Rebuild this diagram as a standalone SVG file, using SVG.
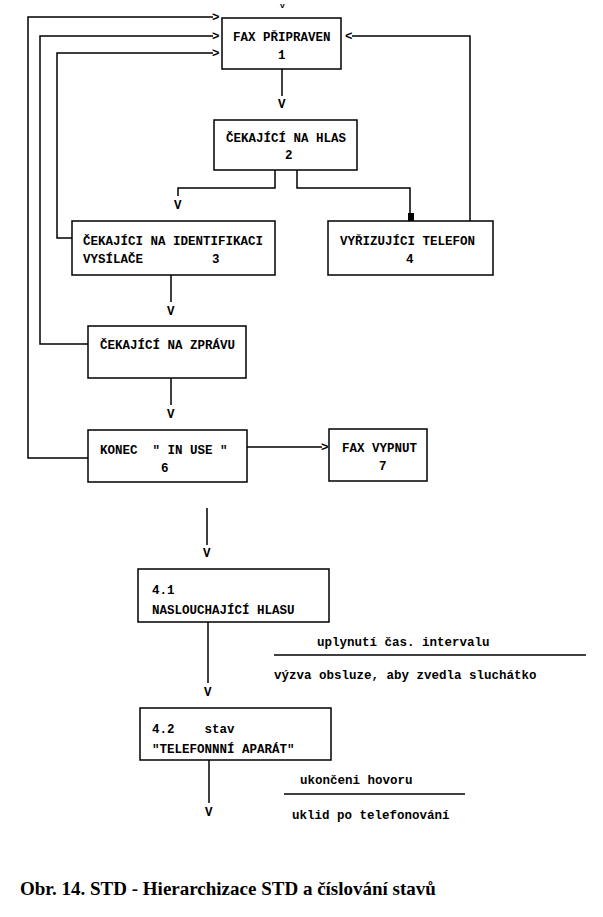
<svg xmlns="http://www.w3.org/2000/svg" width="603" height="917" viewBox="0 0 603 917">
<style>
.b{fill:#fff;stroke:#000;stroke-width:1.5}
.t{font-family:"Liberation Mono",monospace;font-size:12.5px;font-weight:bold;fill:#000;white-space:pre}
.c{fill:none;stroke:#000;stroke-width:1.5}
</style>
<rect width="603" height="917" fill="#fff"/>
<g id="connectors">
<text class="t" x="280" y="8" style="font-size:8px">v</text>
<polyline class="c" points="88,458 28,458 28,17 213,17"/>
<polyline class="c" points="88,344 40,344 40,36 213,36"/>
<polyline class="c" points="72,238 57,238 57,53 213,53"/>
<text class="t" x="212" y="21">&gt;</text><text class="t" x="212" y="40">&gt;</text><text class="t" x="212" y="57">&gt;</text>
<polyline class="c" points="470,221 470,36 352,36"/>
<text class="t" x="345" y="40">&lt;</text>
<line class="c" x1="282" y1="69" x2="282" y2="96"/><text class="t" x="278" y="108">V</text>
<polyline class="c" points="275,170 275,188 178,188 178,196"/><text class="t" x="174" y="209">V</text>
<polyline class="c" points="297,170 297,188 410,188 410,221"/>
<rect x="408" y="213" width="6" height="16" fill="#000"/>
<line class="c" x1="171" y1="275" x2="171" y2="302"/><text class="t" x="167" y="315">V</text>
<line class="c" x1="171" y1="378" x2="171" y2="405"/><text class="t" x="167" y="418">V</text>
<line class="c" x1="247" y1="447" x2="322" y2="447"/><text class="t" x="321" y="451">&gt;</text>
<line class="c" x1="207" y1="508" x2="207" y2="545"/><text class="t" x="203" y="557">V</text>
<line class="c" x1="208" y1="622" x2="208" y2="683"/><text class="t" x="204" y="696">V</text>
<line class="c" x1="209" y1="760" x2="209" y2="803"/><text class="t" x="205" y="816">V</text>
<line class="c" x1="274" y1="655" x2="586" y2="655"/>
<line class="c" x1="284" y1="794" x2="465" y2="794"/>
<text class="t" x="317" y="646">uplynutí čas. intervalu</text>
<text class="t" x="274" y="679">výzva obsluze, aby zvedla sluchátko</text>
<text class="t" x="300" y="784">ukončeni hovoru</text>
<text class="t" x="292" y="819">uklid po telefonování</text>
</g>
<g id="n1"><rect class="b" x="222" y="18" width="119" height="51"/><text class="t" x="233" y="41">FAX PŘIPRAVEN</text><text class="t" x="278" y="59">1</text></g>
<g id="n2"><rect class="b" x="214" y="120" width="143" height="50"/><text class="t" x="226" y="142">ČEKAJÍCÍ NA HLAS</text><text class="t" x="285" y="159">2</text></g>
<g id="n3"><rect class="b" x="72" y="221" width="203" height="54"/><text class="t" x="83" y="245">ČEKAJÍCI NA IDENTIFIKACI</text><text class="t" x="83" y="263">VYSÍLAČE</text><text class="t" x="212" y="263">3</text></g>
<g id="n4"><rect class="b" x="328" y="221" width="165" height="54"/><text class="t" x="340" y="245">VYŘIZUJÍCI TELEFON</text><text class="t" x="406" y="263">4</text></g>
<g id="n5"><rect class="b" x="88" y="326" width="158" height="52"/><text class="t" x="100" y="349">ČEKAJÍCÍ NA ZPRÁVU</text></g>
<g id="n6"><rect class="b" x="88" y="430" width="159" height="52"/><text class="t" x="100" y="454">KONEC  " IN USE "</text><text class="t" x="161" y="472">6</text></g>
<g id="n7"><rect class="b" x="329" y="429" width="98" height="52"/><text class="t" x="342" y="452">FAX VYPNUT</text><text class="t" x="379" y="470">7</text></g>
<g id="n41"><rect class="b" x="138" y="569" width="191" height="53"/><text class="t" x="152" y="594">4.1</text><text class="t" x="152" y="614">NASLOUCHAJÍCÍ HLASU</text></g>
<g id="n42"><rect class="b" x="140" y="708" width="191" height="52"/><text class="t" x="152" y="733">4.2    stav</text><text class="t" x="152" y="753">"TELEFONNNÍ APARÁT"</text></g>
<text x="20" y="895" font-family="Liberation Serif,serif" font-size="19" font-weight="bold">Obr. 14. STD - Hierarchizace STD a číslování stavů</text>
</svg>
